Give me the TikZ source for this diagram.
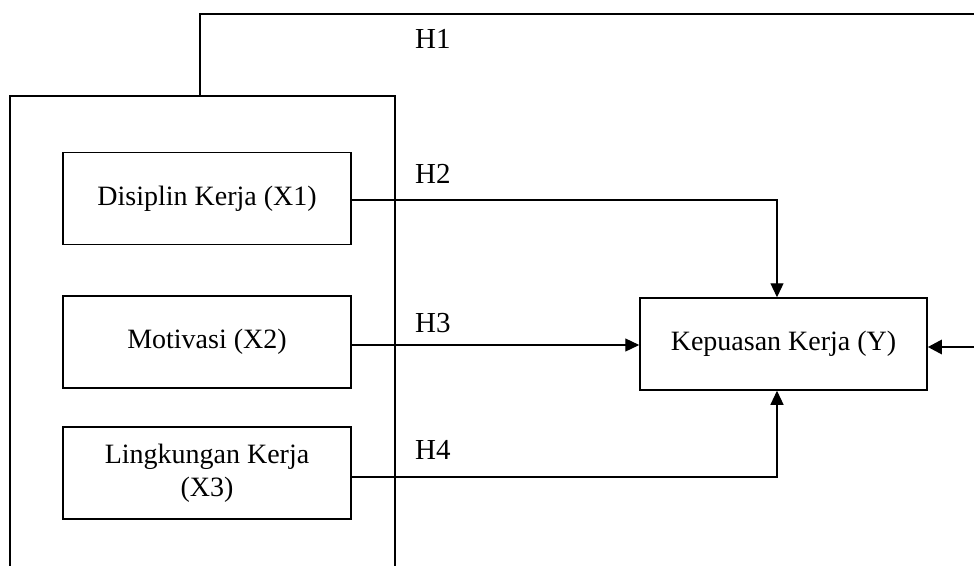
\documentclass[tikz,border=0pt]{standalone}
\usepackage{fontspec}
\setmainfont{Liberation Serif}
\usetikzlibrary{arrows.meta}
\begin{document}
\begin{tikzpicture}[x=1pt,y=-1pt,
  font=\fontsize{28}{33}\selectfont,
  varbox/.style={draw,line width=1.5pt,minimum width=288pt,minimum height=92pt,
    inner sep=0pt,align=center},
  grp/.style={draw,line width=2.4pt},
  link/.style={line width=1.2pt,-{Triangle[length=14pt,width=13pt]}},
  main/.style={line width=2.8pt,-{Triangle[length=14pt,width=14pt]}},
  hyp/.style={anchor=base west,inner sep=0pt,font=\fontsize{29}{33}\selectfont}]
\useasboundingbox (0,0) rectangle (974,565);
\clip (0,0) rectangle (974,565);
\fill[white] (0,0) rectangle (974,565);

% group frame around the independent variables (runs past the bottom edge)
\node[grp,minimum width=385pt,minimum height=524pt,inner sep=0pt] (group) at (202.5,358) {};

% variables
\node[varbox] (x1) at (207,198.5) {Disiplin Kerja (X1)};
\node[varbox] (x2) at (207,342) {Motivasi (X2)};
\node[varbox] (x3) at (207,473) {Lingkungan Kerja\\(X3)};
\node[varbox,minimum width=287pt] (ky) at (783.5,344) {Kepuasan Kerja (Y)};

% partial effects
\draw[link] ([yshift=-1.5pt]x1.east) -| ([xshift=-6.5pt]ky.north);
\draw[link] ([yshift=-3pt]x2.east) -- ([yshift=-3pt]x2.east -| ky.west);
\draw[link] ([yshift=-4pt]x3.east) -| ([xshift=-6.5pt]ky.south);

% simultaneous effect
\coordinate (tr) at (976,14);
\draw[main] ([xshift=-2.5pt]group.north) |- (tr) |- ([yshift=-3pt]ky.east);

% hypothesis labels
\node[hyp] (h1) at (415,48) {H1};
\node[hyp] (h2) at (415,183) {H2};
\node[hyp] (h3) at (415,332) {H3};
\node[hyp] (h4) at (415,459) {H4};
\end{tikzpicture}
\end{document}
